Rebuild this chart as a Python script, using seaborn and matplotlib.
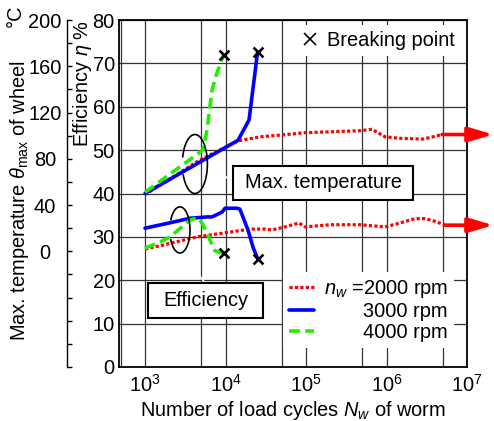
import matplotlib
matplotlib.use("Agg")
from matplotlib import pyplot as plt
from matplotlib.patches import Arc, Rectangle
from matplotlib.lines import Line2D
from matplotlib.ticker import LogLocator, FixedLocator, NullFormatter, LogFormatterSciNotation
import numpy as np
import seaborn as sns

# efficiency eta (%) against load cycles, per worm speed
eff_cycles_2000 = [1000, 1675, 4430, 11400, 20100, 31000, 37900, 54900, 81800, 97200,
                   199000, 469000, 958000, 1.47e6, 2.26e6, 3.0e6, 4.0e6, 5.33e6]
eff_2000 = [27.2, 28.1, 30.0, 31.1, 31.8, 31.8, 31.6, 32.3, 33.2, 32.3,
            32.8, 32.8, 32.3, 33.2, 34.2, 34.2, 33.6, 32.7]
eff_cycles_3000 = [1000, 2230, 3620, 5890, 6790, 9060, 9860, 13900, 15100, 19000, 22000, 25000]
eff_3000 = [32.0, 33.4, 34.3, 34.6, 34.6, 35.7, 36.6, 36.6, 36.4, 31.6, 27.6, 25.0]
eff_cycles_4000 = [1000, 1535, 2050, 3620, 4550, 5100, 5890, 6800, 7400, 9500]
eff_4000 = [27.4, 28.8, 30.0, 33.9, 34.4, 33.2, 30.9, 28.2, 26.8, 26.2]

# max. wheel temperature (deg C) against load cycles
temp_cycles_2000 = [1000, 4800, 14300, 27000, 69000, 92000, 470000, 660000, 960000,
                    1.47e6, 2.84e6, 3.78e6, 4.9e6]
temp_2000 = [49, 79, 95.5, 99, 101.5, 102.5, 104.3, 105.5, 99, 97.7, 97.1, 99, 101]
temp_cycles_3000 = [1000, 14300, 19600, 25000]
temp_3000 = [50, 96, 113.5, 172]
temp_cycles_4000 = [1000, 5250, 5900, 6400, 6800, 7800, 9500]
temp_4000 = [51, 87.6, 105, 125, 139.5, 154, 170]

# breaking points (4000 rpm, 3000 rpm)
break_cycles = [9500, 25000]
break_eff = [26.2, 25.0]
break_temp = [170, 172]

speed_labels = ["$n_w$ =2000 rpm", "3000 rpm", "4000 rpm"]
eff_ticks = np.arange(0, 81, 10)
temp_label_ticks = [0, 40, 80, 120, 160, 200]
temp_minor_ticks = np.arange(-100, 201, 20)

FS = 14.4
sns.set_theme(style="white", rc={"axes.edgecolor": "black", "text.color": "black",
                                 "xtick.color": "black", "ytick.color": "black",
                                 "axes.labelcolor": "black"})
plt.rcParams["font.family"] = ["Liberation Sans", "DejaVu Sans"]
for key in ["font.size", "axes.labelsize", "xtick.labelsize", "ytick.labelsize",
            "legend.fontsize", "axes.titlesize"]:
    plt.rcParams[key] = FS
plt.rcParams["mathtext.fontset"] = "custom"
plt.rcParams["mathtext.rm"] = "Liberation Sans"
plt.rcParams["mathtext.it"] = "Liberation Sans:italic"
plt.rcParams["mathtext.bf"] = "Liberation Sans:bold"

RED, BLUE, GREEN = "#ff0000", "#0000ff", "#22ee00"
dotted = (0, (1, 0.7))
dashed = (0, (3, 1.5))

fig = plt.figure(figsize=(4.94, 4.21), dpi=100)
ax = fig.add_axes([119/494, 54/421, 348/494, 347/421])
ax.set_xscale("log")
ax.set_xlim(10**2.677, 1e7)
ax.set_ylim(0, 80)
ax.xaxis.set_major_locator(LogLocator(base=10, numticks=10))
ax.xaxis.set_major_formatter(LogFormatterSciNotation())
ax.xaxis.set_minor_locator(LogLocator(base=10, subs=[5], numticks=10))
ax.xaxis.set_minor_formatter(NullFormatter())
ax.set_yticks(eff_ticks)
ax.grid(True, which="both", axis="x", color="0.2", lw=0.9)
ax.grid(True, which="major", axis="y", color="0.2", lw=0.9)
ax.tick_params(axis="both", which="both", length=0)
ax.tick_params(axis="y", pad=3)
ax.tick_params(axis="x", pad=5)
for s in ax.spines.values():
    s.set_linewidth(1.3)

ax2 = ax.twinx()
ax2.set_ylim(-100, 200)
ax2.spines["right"].set_visible(False)
ax2.spines["top"].set_visible(False)
ax2.spines["bottom"].set_visible(False)
ax2.spines["left"].set_visible(True)
ax2.spines["left"].set_position(("outward", 37.4))
ax2.spines["left"].set_linewidth(1.0)
ax2.yaxis.set_ticks_position("left")
ax2.yaxis.set_label_position("left")
ax2.yaxis.set_major_locator(FixedLocator(temp_label_ticks))
ax2.yaxis.set_minor_locator(FixedLocator(temp_minor_ticks))
ax2.yaxis.set_minor_formatter(NullFormatter())
ax2.tick_params(axis="y", which="both", direction="in", length=3.6, width=1.0, pad=15.8)
plt.setp(ax2.get_yticklabels(), ha="center")

# efficiency curves
sns.lineplot(x=eff_cycles_2000, y=eff_2000, ax=ax, color=RED, lw=2.3, linestyle=dotted)
sns.lineplot(x=eff_cycles_3000, y=eff_3000, ax=ax, color=BLUE, lw=2.6)
sns.lineplot(x=eff_cycles_4000, y=eff_4000, ax=ax, color=GREEN, lw=2.6, linestyle=dashed)
sns.scatterplot(x=break_cycles, y=break_eff, ax=ax, marker="x", s=50, color="black",
                linewidth=1.9, zorder=5)

# temperature curves
sns.lineplot(x=temp_cycles_2000, y=temp_2000, ax=ax2, color=RED, lw=2.3, linestyle=dotted)
sns.lineplot(x=temp_cycles_3000, y=temp_3000, ax=ax2, color=BLUE, lw=2.6)
sns.lineplot(x=temp_cycles_4000, y=temp_4000, ax=ax2, color=GREEN, lw=2.6, linestyle=dashed)
sns.scatterplot(x=break_cycles, y=break_temp, ax=ax2, marker="x", s=50, color="black",
                linewidth=1.9, zorder=5)

# run-outs continue beyond the axis
arrow_kw = dict(arrowstyle="-|>,head_length=1.0,head_width=0.3", color=RED, lw=2.6,
                mutation_scale=15, shrinkA=0, shrinkB=0)
ax.annotate("", xy=(1.075, eff_2000[-1]), xycoords=("axes fraction", "data"),
            xytext=(eff_cycles_2000[-1], eff_2000[-1]), textcoords="data",
            arrowprops=arrow_kw, annotation_clip=False)
ax2.annotate("", xy=(1.075, temp_2000[-1]), xycoords=("axes fraction", "data"),
             xytext=(temp_cycles_2000[-1], temp_2000[-1]), textcoords="data",
             arrowprops=arrow_kw, annotation_clip=False)

ax.set_xlabel("Number of load cycles $N_w$ of worm", labelpad=2)
ax.set_ylabel("Efficiency $\\eta$ %", loc="top", va="baseline")
ax.yaxis.set_label_coords(-0.089, 1.0)
ax2.set_ylabel("Max. temperature $\\theta_{\\rm max}$ of wheel", va="baseline")
ax2.yaxis.set_label_coords(-0.27, 0.481)
fig.text(15/494, 1 - 16/421, "°C", rotation=90, ha="center", va="center")

# group callouts
for (cx, cy, w, h, t1, t2) in [(0.218, 0.585, 0.072, 0.170, -139, 152),
                               (0.175, 0.395, 0.058, 0.133, -136, 134)]:
    ax2.add_patch(Arc((cx, cy), w, h, theta1=t1, theta2=t2, transform=ax2.transAxes,
                      color="black", lw=1.2, zorder=6))
ax2.annotate("", xy=(0.3276, 0.533), xytext=(0.2557, 0.585), xycoords="axes fraction",
             arrowprops=dict(arrowstyle="-", lw=1.2, shrinkA=0, shrinkB=0))
ax2.annotate("", xy=(0.2471, 0.2421), xytext=(0.181, 0.3314), xycoords="axes fraction",
             arrowprops=dict(arrowstyle="-", lw=1.2, shrinkA=0, shrinkB=0))
for (x0, y0, w, h, label) in [(0.3276, 0.4813, 0.517, 0.098, "Max. temperature"),
                              (0.0833, 0.1412, 0.3305, 0.1009, "Efficiency")]:
    ax2.add_patch(Rectangle((x0, y0), w, h, transform=ax2.transAxes, facecolor="white",
                            edgecolor="black", lw=1.5, zorder=7))
    ax2.text(x0 + w / 2, y0 + h / 2, label, transform=ax2.transAxes, ha="center",
             va="center", zorder=8)

# legends
speed_handles = [Line2D([], [], color=RED, lw=2.3, linestyle=dotted),
                 Line2D([], [], color=BLUE, lw=2.6),
                 Line2D([], [], color=GREEN, lw=2.6, linestyle=dashed)]
leg = ax2.legend(speed_handles, speed_labels, loc="center", bbox_to_anchor=(0.716, 0.164),
                 frameon=True, facecolor="white", edgecolor="none", framealpha=1,
                 fancybox=False, handlelength=1.25, handletextpad=0.5, labelspacing=0.1,
                 borderpad=0.3, borderaxespad=0)
fig.canvas.draw()
renderer = fig.canvas.get_renderer()
widths = [t.get_window_extent(renderer).width for t in leg.get_texts()]
for t, w in zip(leg.get_texts(), widths):
    t.set_position((max(widths) - w, 0))

break_handle = Line2D([], [], color="black", marker="x", linestyle="none", markersize=8,
                      markeredgewidth=1.2)
leg2 = ax2.legend([break_handle], ["Breaking point"], loc="center",
                  bbox_to_anchor=(0.7428, 0.9409), frameon=True, facecolor="white",
                  edgecolor="none", framealpha=1, fancybox=False, handlelength=0.9,
                  handletextpad=0.4, borderpad=0.3, borderaxespad=0)
ax2.add_artist(leg)

fig.savefig("out.png", dpi=100)
